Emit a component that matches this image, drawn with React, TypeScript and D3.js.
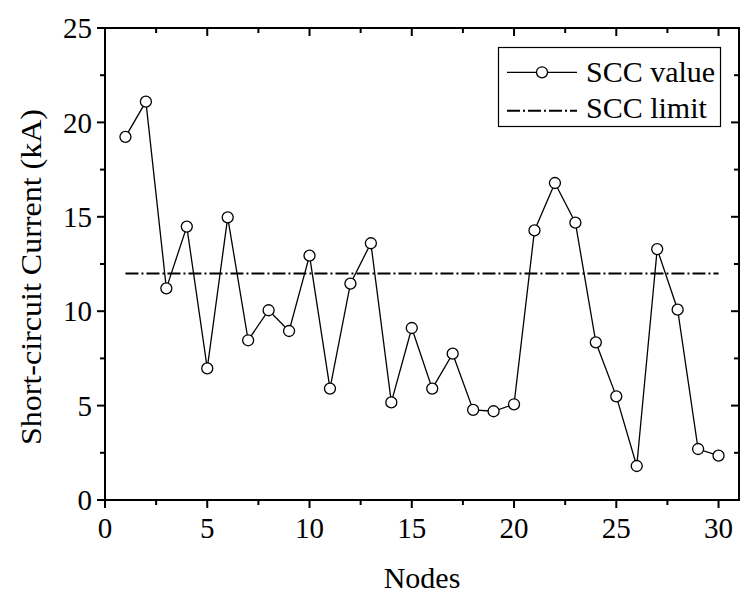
import React from "react";
import * as d3 from "d3";

const nodes = [1,2,3,4,5,6,7,8,9,10,11,12,13,14,15,16,17,18,19,20,21,22,23,24,25,26,27,28,29,30];
const sccValues = [19.23,21.1,11.21,14.48,6.97,14.97,8.46,10.05,8.95,12.94,5.9,11.46,13.6,5.17,9.11,5.9,7.75,4.77,4.7,5.07,14.28,16.79,14.69,8.35,5.49,1.8,13.29,10.08,2.7,2.35];
const sccLimit = 12;
const limitRange = [1, 30];
const xTicks = [0,5,10,15,20,25,30];
const xMinorTicks = [2.5,7.5,12.5,17.5,22.5,27.5];
const yTicks = [0,5,10,15,20,25];
const yMinorTicks = [2.5,7.5,12.5,17.5,22.5];
const legendLabels = ["SCC value", "SCC limit"];

const FONT = "Liberation Serif";

export default function App() {
  const left = 105, right = 739, top = 28, bottom = 500;
  const x = d3.scaleLinear().domain([0, 31]).range([left, right]);
  const y = d3.scaleLinear().domain([0, 25]).range([bottom, top]);
  const data = nodes.map((n, i) => ({ n, v: sccValues[i] }));
  const line = d3.line<{ n: number; v: number }>().x(d => x(d.n)).y(d => y(d.v));
  const dash = "13,3,2,3";
  const majorLen = 8, minorLen = 5;

  return (
    <svg width={740} height={593} style={{ position: "absolute", left: 0, top: 0, background: "#fff" }}>
      <rect x={0} y={0} width={740} height={593} fill="#fff" />
      <line x1={x(limitRange[0])} x2={x(limitRange[1])} y1={y(sccLimit)} y2={y(sccLimit)} stroke="#000" strokeWidth={2} strokeDasharray={dash} />
      <path d={line(data) || ""} fill="none" stroke="#000" strokeWidth={1.3} />
      {data.map(d => (
        <circle key={d.n} cx={x(d.n)} cy={y(d.v)} r={5.5} fill="#fff" stroke="#000" strokeWidth={1.3} />
      ))}
      <rect x={left} y={top} width={right - left} height={bottom - top} fill="none" stroke="#000" strokeWidth={2} />
      {xTicks.map(t => (
        <g key={"xt" + t}>
          <line x1={x(t)} x2={x(t)} y1={bottom} y2={bottom + majorLen} stroke="#000" strokeWidth={2} />
          <line x1={x(t)} x2={x(t)} y1={top} y2={top + majorLen} stroke="#000" strokeWidth={2} />
          <text x={x(t)} y={538} textAnchor="middle" fontFamily={FONT} fontSize={29}>{t}</text>
        </g>
      ))}
      {xMinorTicks.map(t => (
        <g key={"xm" + t}>
          <line x1={x(t)} x2={x(t)} y1={bottom} y2={bottom + minorLen} stroke="#000" strokeWidth={2} />
          <line x1={x(t)} x2={x(t)} y1={top} y2={top + minorLen} stroke="#000" strokeWidth={2} />
        </g>
      ))}
      {yTicks.map(t => (
        <g key={"yt" + t}>
          <line x1={left - majorLen} x2={left} y1={y(t)} y2={y(t)} stroke="#000" strokeWidth={2} />
          <line x1={right - majorLen} x2={right} y1={y(t)} y2={y(t)} stroke="#000" strokeWidth={2} />
          <text x={92} y={y(t)} dy="0.35em" textAnchor="end" fontFamily={FONT} fontSize={29}>{t}</text>
        </g>
      ))}
      {yMinorTicks.map(t => (
        <g key={"ym" + t}>
          <line x1={left - minorLen} x2={left} y1={y(t)} y2={y(t)} stroke="#000" strokeWidth={2} />
          <line x1={right - minorLen} x2={right} y1={y(t)} y2={y(t)} stroke="#000" strokeWidth={2} />
        </g>
      ))}
      <text x={(left + right) / 2} y={588} textAnchor="middle" fontFamily={FONT} fontSize={30}>Nodes</text>
      <text transform={`translate(41, 277) rotate(-90)`} textAnchor="middle" fontFamily={FONT} fontSize={30} textLength={336} lengthAdjust="spacingAndGlyphs">Short-circuit Current (kA)</text>
      <rect x={498.5} y={47.5} width={222} height={79} fill="#fff" stroke="#000" strokeWidth={1.2} />
      <line x1={507} x2={577} y1={72.3} y2={72.3} stroke="#000" strokeWidth={1.3} />
      <circle cx={542} cy={72.3} r={5.5} fill="#fff" stroke="#000" strokeWidth={1.3} />
      <text x={586} y={81.7} fontFamily={FONT} fontSize={30}>{legendLabels[0]}</text>
      <line x1={507} x2={577} y1={110.7} y2={110.7} stroke="#000" strokeWidth={2} strokeDasharray={dash} />
      <text x={586} y={118.3} fontFamily={FONT} fontSize={30}>{legendLabels[1]}</text>
    </svg>
  );
}
